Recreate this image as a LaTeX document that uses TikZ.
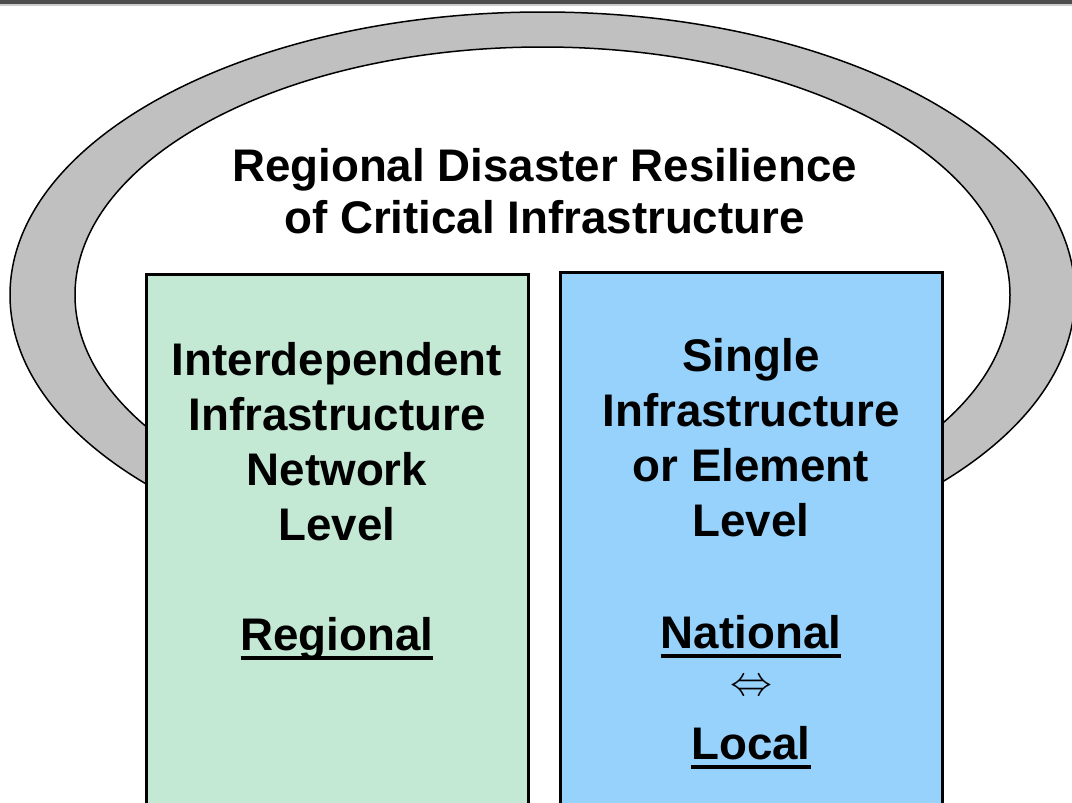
\documentclass[tikz,border=0pt]{standalone}
\usepackage{fontspec}
\setmainfont{Liberation Sans}
\definecolor{ringgray}{HTML}{C0C0C0}
\definecolor{netgreen}{HTML}{C3E8D4}
\definecolor{singleblue}{HTML}{96D2FC}
\definecolor{bargray}{HTML}{4D4D4D}
\newcommand\ulword[1]{\setbox0\hbox{#1}\rlap{\rule[-10pt]{\wd0}{4pt}}\box0}
\begin{document}
\begin{tikzpicture}[x=1pt, y=-1pt]
\tikzstyle{every node}=[inner sep=0pt, align=center, anchor=base,
  font=\fontsize{45.7}{55}\selectfont\bfseries]
\tikzstyle{level box}=[line width=3pt, draw=black]
\useasboundingbox (0,0) rectangle (1072,803);

\fill[bargray] (0,0) rectangle (1072,4);
\fill[black!20] (0,4) rectangle (1072,5.5);

% ring, upper part only
\begin{scope}
\clip (0,0) rectangle (1072,500);
\path[fill=ringgray, even odd rule, draw=black, line width=1.5pt]
  (542.5,295) ellipse [x radius=532.5pt, y radius=283pt]
  (542.5,295) ellipse [x radius=467.5pt, y radius=248pt];
\end{scope}

\node(title) at (544.5,233) {Regional Disaster Resilience\\[-3pt]of Critical Infrastructure};

\draw[level box, fill=netgreen]   (146,274) rectangle (528,830);
\draw[level box, fill=singleblue] (560,272) rectangle (942,830);

\node(net)      at (337,540) {Interdependent\\Infrastructure\\Network\\Level};
\node(regional) at (337,650) {\ulword{Regional}};

\node(single)   at (751,536) {Single\\Infrastructure\\or Element\\Level};
\node(national) at (751,648) {\ulword{National}};
\node(both)[anchor=center, font=\fontsize{10}{10}\selectfont, scale=4.2] at (751,688) {$\Leftrightarrow$};
\node(local)    at (751,759) {\ulword{Local}};

\end{tikzpicture}
\end{document}
